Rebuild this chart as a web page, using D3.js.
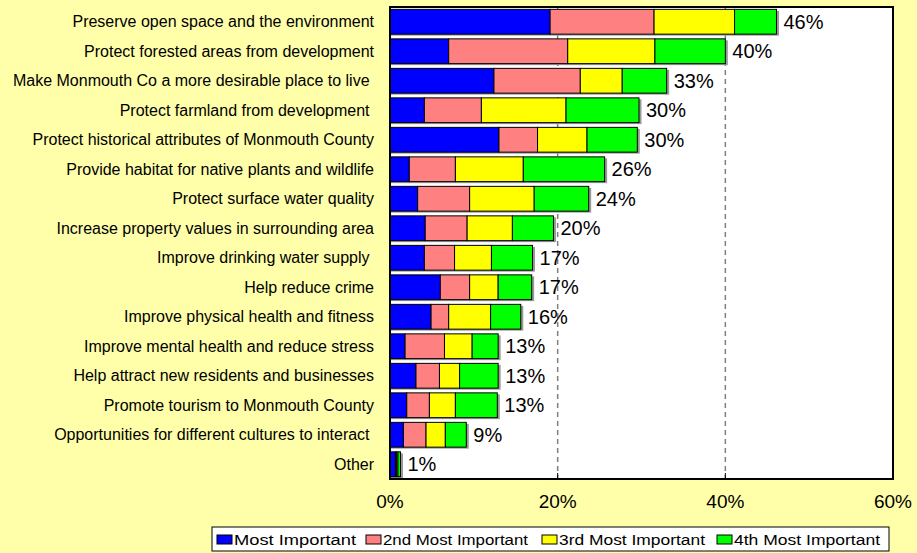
<!DOCTYPE html>
<html><head><meta charset="utf-8">
<script src="https://cdn.jsdelivr.net/npm/d3@7"></script>
<style>body{margin:0;background:#FFFFAA;} svg{display:block;font-family:Arial,"Liberation Sans",sans-serif;}</style>
</head><body><svg id="c" width="917" height="553"></svg>
<script>
const categories = [
  "Preserve open space and the environment",
  "Protect forested areas from development",
  "Make Monmouth Co a more desirable place to live ",
  "Protect farmland from development ",
  "Protect historical attributes of Monmouth County",
  "Provide habitat for native plants and wildlife",
  "Protect surface water quality",
  "Increase property values in surrounding area",
  "Improve drinking water supply ",
  "Help reduce crime",
  "Improve physical health and fitness",
  "Improve mental health and reduce stress",
  "Help attract new residents and businesses",
  "Promote tourism to Monmouth County",
  "Opportunities for different cultures to interact ",
  "Other"
];
const mostImportant   = [19.1, 7.0, 12.4, 4.1, 13.0, 2.3, 3.3, 4.2, 4.1, 6.0, 4.9, 1.8, 3.1, 2.0, 1.6, 0.65];
const secondImportant = [12.4, 14.2, 10.3, 6.8, 4.6, 5.5, 6.2, 5.0, 3.6, 3.5, 2.1, 4.7, 2.8, 2.7, 2.7, 0.15];
const thirdImportant  = [9.6, 10.4, 5.0, 10.1, 5.9, 8.1, 7.7, 5.4, 4.4, 3.4, 5.0, 3.3, 2.4, 3.1, 2.3, 0.15];
const fourthImportant = [5.0, 8.4, 5.3, 8.7, 6.0, 9.7, 6.5, 4.9, 4.9, 4.0, 3.6, 3.1, 4.6, 5.0, 2.5, 0.3];
const totalLabels = ["46%","40%","33%","30%","30%","26%","24%","20%","17%","17%","16%","13%","13%","13%","9%","1%"];
const seriesNames = ["Most Important","2nd Most Important","3rd Most Important","4th Most Important"];
const seriesColors = ["#0000FF","#FF8080","#FFFF00","#00FF00"];
const xTicks = [0, 20, 40, 60];

const svg = d3.select("#c");
const L = 390, R = 893, T = 7, B = 479;
const x = d3.scaleLinear().domain([0, 60]).range([L, R]);
const y = d3.scaleBand().domain(categories).range([T, B]).paddingInner(0.16).paddingOuter(0.08);

svg.append("rect").attr("width", 917).attr("height", 553).attr("fill", "#FFFFAA");
svg.append("rect").attr("x", L).attr("y", T).attr("width", R - L).attr("height", B - T).attr("fill", "#fff");

// gridlines
svg.append("g").selectAll("line").data([20, 40]).join("line")
  .attr("x1", d => x(d)).attr("x2", d => x(d)).attr("y1", T).attr("y2", B)
  .attr("stroke", "#808080").attr("stroke-width", 1.5).attr("stroke-dasharray", "5,4");

const series = [mostImportant, secondImportant, thirdImportant, fourthImportant];
const rows = categories.map((c, i) => {
  let acc = 0;
  const segs = series.map((s, k) => { const a = acc; acc += s[i]; return {c, k, x0: a, x1: acc}; });
  return {c, i, segs, total: acc};
});

// shadows
svg.append("g").selectAll("rect").data(rows).join("rect")
  .attr("x", d => x(0) + 1).attr("y", d => y(d.c) + 1.5)
  .attr("width", d => x(d.total) - x(0) + 1.5).attr("height", y.bandwidth())
  .attr("fill", "#999");

const g = svg.append("g");
rows.forEach(r => {
  g.selectAll(null).data(r.segs).join("rect")
    .attr("x", d => x(d.x0)).attr("y", y(r.c))
    .attr("width", d => Math.max(0, x(d.x1) - x(d.x0))).attr("height", y.bandwidth())
    .attr("fill", d => seriesColors[d.k]).attr("stroke", "#000").attr("stroke-width", 1);
});

// value labels
svg.append("g").selectAll("text").data(rows).join("text")
  .attr("x", d => x(d.total) + 7).attr("y", d => y(d.c) + y.bandwidth() / 2 + 7)
  .attr("font-size", 20).attr("fill", "#000").text((d, i) => totalLabels[i]);

// category labels
svg.append("g").selectAll("text").data(categories).join("text")
  .attr("x", 374).attr("y", d => y(d) + y.bandwidth() / 2 + 5.5)
  .attr("text-anchor", "end").attr("font-size", 16).attr("fill", "#000")
  .style("white-space", "pre").text(d => d);

// plot frame
svg.append("rect").attr("x", L).attr("y", T).attr("width", R - L).attr("height", B - T)
  .attr("fill", "none").attr("stroke", "#000").attr("stroke-width", 2);

// x axis ticks & labels
const xa = svg.append("g");
xa.selectAll("line").data(xTicks).join("line")
  .attr("x1", d => x(d)).attr("x2", d => x(d)).attr("y1", B).attr("y2", B - 6)
  .attr("stroke", "#000").attr("stroke-width", 1);
xa.selectAll("text").data(xTicks).join("text")
  .attr("x", d => x(d)).attr("y", 508).attr("text-anchor", "middle")
  .attr("font-size", 19).attr("fill", "#000").text(d => d + "%");

// legend
const lg = svg.append("g");
lg.append("rect").attr("x", 212).attr("y", 527).attr("width", 677).attr("height", 24)
  .attr("fill", "#fff").attr("stroke", "#000").attr("stroke-width", 1);
const lx = [217, 366, 542, 717];
const lw = [122, 145, 146, 146];
seriesNames.forEach((n, k) => {
  lg.append("rect").attr("x", lx[k]).attr("y", 535).attr("width", 15).attr("height", 9)
    .attr("fill", seriesColors[k]).attr("stroke", "#000").attr("stroke-width", 1);
  lg.append("text").attr("x", lx[k] + 17).attr("y", 545).attr("font-size", 14)
    .attr("textLength", lw[k]).attr("lengthAdjust", "spacingAndGlyphs")
    .attr("fill", "#000").text(n);
});
</script>
</body></html>
